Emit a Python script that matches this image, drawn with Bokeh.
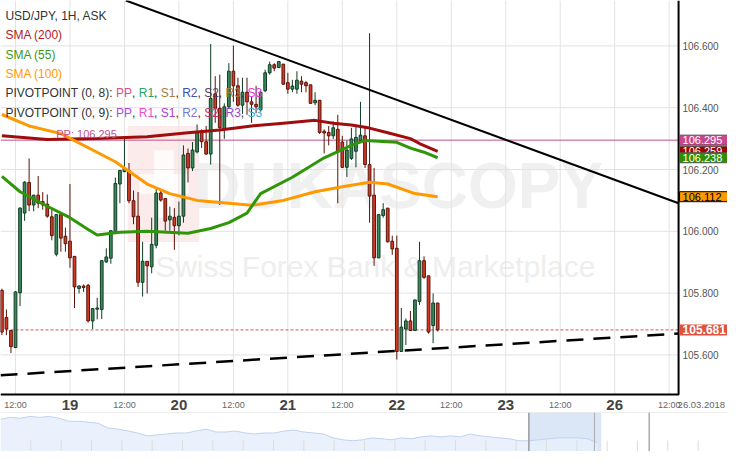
import numpy as np
from bokeh.plotting import figure
from bokeh.models import Range1d, Label, ColumnDataSource, BoxAnnotation, Span
from bokeh.layouts import column
from bokeh.embed import file_html
from bokeh.resources import INLINE
from bokeh.core.properties import value

# ---------------- data ----------------
hours = list(range(-15, 82))   # hours relative to 19.03.2018 00:00 (weekend removed)
opens = [105.809, 105.721, 105.679, 105.624, 105.801, 106.059, 106.158, 106.085, 106.117, 106.096, 106.088, 106.047, 105.926, 106.054, 105.984,
         105.968, 105.919, 105.815, 105.823, 105.825, 105.710, 105.748, 105.747, 105.901, 105.913,
         105.997, 106.153, 106.193, 106.197, 106.099, 106.049, 105.835, 105.903, 105.885, 105.955,
         106.124, 106.106, 106.037, 106.045, 106.018, 106.049, 106.252, 106.205, 106.257, 106.320,
         106.290, 106.250, 106.445, 106.398, 106.330, 106.403, 106.518, 106.471, 106.408, 106.450,
         106.419, 106.411, 106.393, 106.455, 106.513, 106.539, 106.530, 106.541, 106.481, 106.460,
         106.460, 106.486, 106.481, 106.474, 106.416, 106.424, 106.324, 106.320, 106.309, 106.330,
         106.289, 106.207, 106.236, 106.259, 106.294, 106.309, 106.216, 106.117, 105.914, 106.051,
         106.075, 105.968, 105.945, 105.611, 105.684, 105.710, 105.679, 105.773, 105.905, 105.856,
         105.695, 105.768]
highs = [105.814, 105.747, 105.679, 105.806, 106.078, 106.162, 106.236, 106.117, 106.179, 106.127, 106.119, 106.070, 106.056, 106.056, 106.012,
         106.153, 105.920, 105.825, 105.828, 105.830, 105.751, 105.785, 105.905, 105.945, 106.002,
         106.174, 106.197, 106.304, 106.221, 106.132, 106.127, 105.966, 105.903, 106.044, 106.138,
         106.132, 106.106, 106.080, 106.075, 106.096, 106.278, 106.268, 106.289, 106.346, 106.330,
         106.341, 106.606, 106.502, 106.507, 106.414, 106.544, 106.601, 106.497, 106.497, 106.497,
         106.434, 106.471, 106.455, 106.523, 106.549, 106.544, 106.551, 106.541, 106.513, 106.490,
         106.518, 106.502, 106.486, 106.474, 106.450, 106.424, 106.330, 106.341, 106.356, 106.377,
         106.309, 106.294, 106.335, 106.341, 106.419, 106.341, 106.641, 106.205, 106.054, 106.091,
         106.075, 105.986, 105.986, 105.752, 105.718, 105.742, 105.778, 105.966, 105.919, 105.856,
         105.799, 105.768]
lows = [105.664, 105.664, 105.606, 105.622, 105.758, 106.034, 106.065, 106.065, 106.075, 106.070, 106.044, 105.971, 105.919, 105.934, 105.934,
        105.882, 105.752, 105.799, 105.804, 105.705, 105.684, 105.715, 105.716, 105.898, 105.895,
        105.997, 106.091, 106.193, 106.091, 106.023, 105.820, 105.789, 105.799, 105.864, 105.945,
        106.096, 106.002, 106.002, 105.940, 105.987, 106.028, 106.158, 106.195, 106.252, 106.270,
        106.247, 106.216, 106.351, 106.085, 106.299, 106.398, 106.419, 106.403, 106.380, 106.377,
        106.351, 106.382, 106.388, 106.450, 106.507, 106.518, 106.528, 106.474, 106.445, 106.450,
        106.445, 106.450, 106.450, 106.414, 106.408, 106.315, 106.252, 106.278, 106.299, 106.091,
        106.205, 106.176, 106.231, 106.207, 106.294, 106.205, 106.028, 105.888, 105.914, 106.044,
        105.964, 105.924, 105.585, 105.611, 105.632, 105.679, 105.679, 105.762, 105.846, 105.669,
        105.638, 105.676]
closes = [105.674, 105.684, 105.627, 105.804, 106.075, 106.159, 106.085, 106.117, 106.091, 106.085, 106.049, 105.986, 106.054, 105.978, 105.960,
          105.914, 105.820, 105.823, 105.818, 105.710, 105.750, 105.752, 105.905, 105.917, 106.002,
          106.155, 106.197, 106.205, 106.099, 106.047, 105.835, 105.903, 105.888, 105.958, 106.124,
          106.101, 106.033, 106.049, 106.018, 106.049, 106.247, 106.205, 106.263, 106.320, 106.290,
          106.250, 106.430, 106.398, 106.335, 106.403, 106.518, 106.471, 106.408, 106.450, 106.419,
          106.411, 106.403, 106.450, 106.513, 106.539, 106.528, 106.549, 106.476, 106.460, 106.470,
          106.489, 106.476, 106.471, 106.414, 106.424, 106.320, 106.318, 106.309, 106.335, 106.257,
          106.207, 106.263, 106.299, 106.304, 106.311, 106.216, 106.114, 105.914, 106.054, 106.070,
          105.966, 105.943, 105.611, 105.690, 105.710, 105.679, 105.778, 105.905, 105.851, 105.674,
          105.768, 105.681]

sma200_t = [-15, -5, 6, 17, 26, 33, 40, 47, 54, 58, 62, 66, 70, 75, 77, 81]
sma200_v = [106.309, 106.297, 106.300, 106.306, 106.319, 106.328, 106.341, 106.350, 106.359, 106.350,
            106.344, 106.334, 106.319, 106.300, 106.284, 106.259]
sma55_t = [-15, -11, -5, 0, 4, 6, 11, 17, 26, 31, 35, 39, 42, 49, 56, 62, 65, 72, 75, 78, 81]
sma55_v = [106.178, 106.128, 106.081, 106.044, 106.006, 105.988, 105.997, 106.000, 105.994, 106.009,
           106.028, 106.059, 106.122, 106.175, 106.238, 106.278, 106.294, 106.288, 106.269, 106.256, 106.238]
sma100_t = [-15, -9, -2, 5, 10, 17, 22, 28, 35, 40, 47, 54, 60, 66, 70, 76, 81]
sma100_v = [106.378, 106.341, 106.316, 106.263, 106.225, 106.153, 106.122, 106.100, 106.091, 106.084,
            106.100, 106.128, 106.144, 106.159, 106.153, 106.122, 106.112]

trend_t = [12.3, 134.08]
trend_p = [106.747, 106.091]
support_t = [-15.3, 134.08]
support_p = [105.534, 105.669]
pivot_pp = 106.295
last_price = closes[-1]

price_ticks = [105.6, 105.8, 106.0, 106.2, 106.4, 106.6]
x_ticks = [-12, 0, 12, 24, 36, 48, 60, 72, 84, 96, 108, 120, 132]
x_tick_labels = ["12:00", "19", "12:00", "20", "12:00", "21", "12:00", "22", "12:00", "23", "12:00", "26", "12:00"]
date_label = "26.03.2018"

# navigator history (one price sample per step)
nav_vals = [106.72, 106.80, 106.76, 106.84, 106.80, 106.84, 106.76, 106.64, 106.64, 106.60,
            106.56, 106.36, 106.32, 106.24, 106.16, 106.04, 106.08, 106.12, 106.16, 106.16,
            106.24, 106.32, 106.20, 106.20, 106.24, 106.16, 106.12, 106.16, 106.16, 106.24,
            106.28, 106.20, 106.16, 106.12, 105.96, 105.88, 105.84, 105.88, 105.96, 105.92,
            105.88, 105.96, 105.92, 106.00, 106.04, 106.00, 106.04, 106.00, 106.12, 106.04,
            106.00, 105.96, 105.92, 105.84, 105.84, 105.88, 105.92, 105.96, 105.96, 105.96,
            105.92, 105.76]

# ---------------- geometry ----------------
SX = 727 / 743
SY = 451 / 467
MAIN_H = 412
NAV_H = 451 - MAIN_H
PX_H = 55.67 / 12.0          # reference px per hour
X0 = 71.0                    # reference x of 19.03 00:00
def ref_t(x): return (x - X0) / PX_H
def ref_p(y): return 106.2 - (y - 175.0) / 320.0
def scr_x(x): return x * SX
def scr_y(y): return MAIN_H - y * SY

T_L, T_R = ref_t(0), ref_t(693)
P_T, P_B = ref_p(0), ref_p(408)

FONT = "Liberation Sans"
NARROW = "Liberation Sans Narrow, Arial Narrow, Liberation Sans"

p = figure(width=727, height=MAIN_H, x_range=Range1d(ref_t(0), ref_t(743)),
           y_range=Range1d(ref_p(MAIN_H / SY), ref_p(0)), output_backend="svg", toolbar_location=None,
           x_axis_location=None, y_axis_location=None, min_border=0,
           min_border_left=0, min_border_right=0, min_border_top=0, min_border_bottom=0)
p.outline_line_color = None
p.xgrid.visible = False
p.ygrid.visible = False

# grid
p.segment(x0=x_ticks, y0=P_B, x1=x_ticks, y1=P_T, line_color="#e3e3e3", line_width=1)
p.segment(x0=T_L, y0=price_ticks, x1=T_R, y1=price_ticks, line_color="#e3e3e3", line_width=1)

# watermark
p.add_layout(BoxAnnotation(left=ref_t(130), right=ref_t(203), top=ref_p(130), bottom=ref_p(250),
                           fill_color="#fbe6e6", fill_alpha=0.8, line_color=None, level="underlay"))
p.add_layout(BoxAnnotation(left=ref_t(157), right=ref_t(177), top=ref_p(155), bottom=ref_p(225),
                           fill_color="white", fill_alpha=0.8, line_color=None, level="underlay"))
p.add_layout(BoxAnnotation(left=ref_t(142), right=ref_t(192), top=ref_p(180), bottom=ref_p(200),
                           fill_color="white", fill_alpha=0.8, line_color=None, level="underlay"))
p.add_layout(Label(x=scr_x(407), y=scr_y(192), x_units="screen", y_units="screen", text="DUKASCOPY",
                   text_font=FONT, text_font_style="bold", text_font_size="64px", text_color="#f0f0f0",
                   text_align="center", text_baseline="middle", level="underlay"))
p.add_layout(Label(x=scr_x(383), y=scr_y(275), x_units="screen", y_units="screen",
                   text="Swiss Forex Bank & Marketplace", text_font=FONT, text_font_size="30px",
                   text_color="#eeeeee", text_align="center", text_baseline="middle", level="underlay"))

# pivot and current price lines
p.line([T_L, T_R], [pivot_pp, pivot_pp], line_color="#c0508a", line_width=1)
p.line([T_L, T_R], [last_price, last_price], line_color="#d9534f", line_width=1, line_dash="3 2")

# candles
RED, RED_E = "#d23c26", "#5a1208"
GRN, GRN_E = "#3a8a5c", "#103c24"
inc = [c >= o for o, c in zip(opens, closes)]
src = ColumnDataSource(dict(
    t=hours, l=lows, h=highs,
    top=[max(o, c) for o, c in zip(opens, closes)],
    bot=[min(o, c) for o, c in zip(opens, closes)],
    body=[GRN if i else RED for i in inc], edge=[GRN_E if i else RED_E for i in inc]))
p.segment(x0="t", y0="l", x1="t", y1="h", source=src, line_color="edge", line_width=1)
p.vbar(x="t", width=0.6, top="top", bottom="bot", source=src, fill_color="body", line_color="edge", line_width=1)

# indicators
p.line(sma200_t, sma200_v, line_color="#a00d0d", line_width=3)
p.line(sma100_t, sma100_v, line_color="#ff9900", line_width=3)
p.line(sma55_t, sma55_v, line_color="#2f960a", line_width=3)
p.line(trend_t, trend_p, line_color="black", line_width=2)
p.line(support_t, support_p, line_color="black", line_width=2.5, line_dash="17 10")

# plot border (right and bottom)
p.line([T_L, T_R, T_R], [P_B, P_B, P_T], line_color="black", line_width=2)

p.add_layout(Label(x=scr_x(57), y=pivot_pp, x_units="screen", text="PP: 106.295", text_font=FONT,
                   text_font_size="11px", text_color="#c0508a", text_baseline="bottom"))

# right price axis labels
p.text(x=ref_t(697), y=price_ticks, text=[f"{v:.3f}" for v in price_ticks], text_font=value(FONT),
       text_font_size="10px", text_color="#555555", text_align="left", text_baseline="middle")

# right price boxes
def price_box(val, fill, txt="white", border=None, size="11px", style="normal"):
    p.add_layout(Label(x=scr_x(694), y=val, x_units="screen", text=f"{val:.3f}", text_font=FONT,
                       text_font_size=size, text_font_style=style, text_color=txt, text_baseline="middle",
                       background_fill_color=fill, border_line_color=border,
                       padding=dict(left=3, right=6, top=1, bottom=1)))

price_box(pivot_pp, "#c8468c", border="#555555")
price_box(sma200_v[-1], "#a00000", border="#555555")
price_box(sma55_v[-1], "#2f8f00", border="#555555")
price_box(sma100_v[-1], "#ff9900", txt="black", border="black")
price_box(last_price, "#e0523e", size="12px", style="bold")

# x labels
day_t = [t for t, l in zip(x_ticks, x_tick_labels) if l != "12:00"]
day_l = [l for l in x_tick_labels if l != "12:00"]
hr_t = [t for t, l in zip(x_ticks, x_tick_labels) if l == "12:00"]
hr_l = [l for l in x_tick_labels if l == "12:00"]
p.text(x=day_t, y=ref_p(419), text=day_l, text_font=value(NARROW), text_font_size="15px",
       text_font_style="bold", text_color="#444444", text_align="center", text_baseline="middle")
p.text(x=hr_t, y=ref_p(419), text=hr_l, text_font=value(FONT), text_font_size="9px",
       text_color="#666666", text_align="center", text_baseline="middle")
p.text(x=[ref_t(692)], y=[ref_p(419)], text=[date_label], text_font=value(FONT), text_font_size="9.5px",
       text_color="#666666", text_align="left", text_baseline="middle")

# legend (top-left)
AW = {' ': 278, '(': 333, ')': 333, ',': 278, ':': 278, '.': 278, '/': 278, 'P': 667, 'I': 278, 'V': 667,
      'O': 778, 'T': 611, 'N': 722, 'R': 722, 'S': 667, 'A': 667, 'M': 833}
def tw(s, size):
    return sum(AW.get(ch, 556) for ch in s) * size / 1000.0

legend_rows = [
    [("USD/JPY, 1H, ASK", "#333333")],
    [("SMA (200)", "#b01c1c")],
    [("SMA (55)", "#3a9a1a")],
    [("SMA (100)", "#ff9900")],
    [("PIVOTPOINT (0, 8): ", "#333333"), ("PP", "#d94f8e"), (", ", "#333333"), ("R1", "#26a36b"), (", ", "#333333"),
     ("S1", "#a0803a"), (", ", "#333333"), ("R2", "#3c4fb0"), (", ", "#333333"), ("S2", "#5a3a5a"),
     (", ", "#333333"), ("R3", "#a07c3c"), (", ", "#333333"), ("S3", "#e838e0")],
    [("PIVOTPOINT (0, 9): ", "#333333"), ("PP", "#b048e0"), (", ", "#333333"), ("R1", "#f048d0"), (", ", "#333333"),
     ("S1", "#b040c8"), (", ", "#333333"), ("R2", "#7878d8"), (", ", "#333333"), ("S2", "#c83070"),
     (", ", "#333333"), ("R3", "#9848c8"), (", ", "#333333"), ("S3", "#38a8c8")],
]
for i, row in enumerate(legend_rows):
    x = scr_x(5)
    yc = scr_y(16 + 20 * i)
    for txt, col in row:
        p.add_layout(Label(x=x, y=yc, x_units="screen", y_units="screen", text=txt, text_font=FONT,
                           text_font_size="12px", text_color=col, text_baseline="middle"))
        x += tw(txt, 12)

# ---------------- navigator ----------------
nav_x = list(range(len(nav_vals)))
nav = figure(width=727, height=NAV_H, x_range=Range1d(0, 74.3), y_range=Range1d(105.4, 107.0),
             output_backend="svg", toolbar_location=None, x_axis_location=None, y_axis_location=None,
             min_border=0, min_border_left=0, min_border_right=0, min_border_top=0, min_border_bottom=0)
nav.outline_line_color = None
nav.xgrid.visible = False
nav.ygrid.visible = False
nav.add_layout(BoxAnnotation(left=54.0, right=61.4, fill_color="#dbe7f7", fill_alpha=1.0, line_color=None,
                             level="underlay"))
nav.varea(x=nav_x, y1=105.4, y2=nav_vals, fill_color="#e6effb", fill_alpha=0.85)
nav.line(nav_x, nav_vals, line_color="#bfd3ee", line_width=1)
nav_ticks = [3.1 * k for k in range(1, 24)]
nav.segment(x0=nav_ticks, y0=105.4, x1=nav_ticks, y1=105.85, line_color="#dddddd", line_width=1)
nav.add_layout(Span(location=107.0, dimension="width", line_color="#dddddd", line_width=1))
nav.add_layout(Span(location=54.0, dimension="height", line_color="#999999", line_width=1.5))
nav.add_layout(Span(location=60.7, dimension="height", line_color="#aaaaaa", line_width=1))
nav.add_layout(Span(location=66.3, dimension="height", line_color="#aaaaaa", line_width=1.5))

layout = column(p, nav, spacing=0)
open("out.html", "w").write(file_html(layout, INLINE))
